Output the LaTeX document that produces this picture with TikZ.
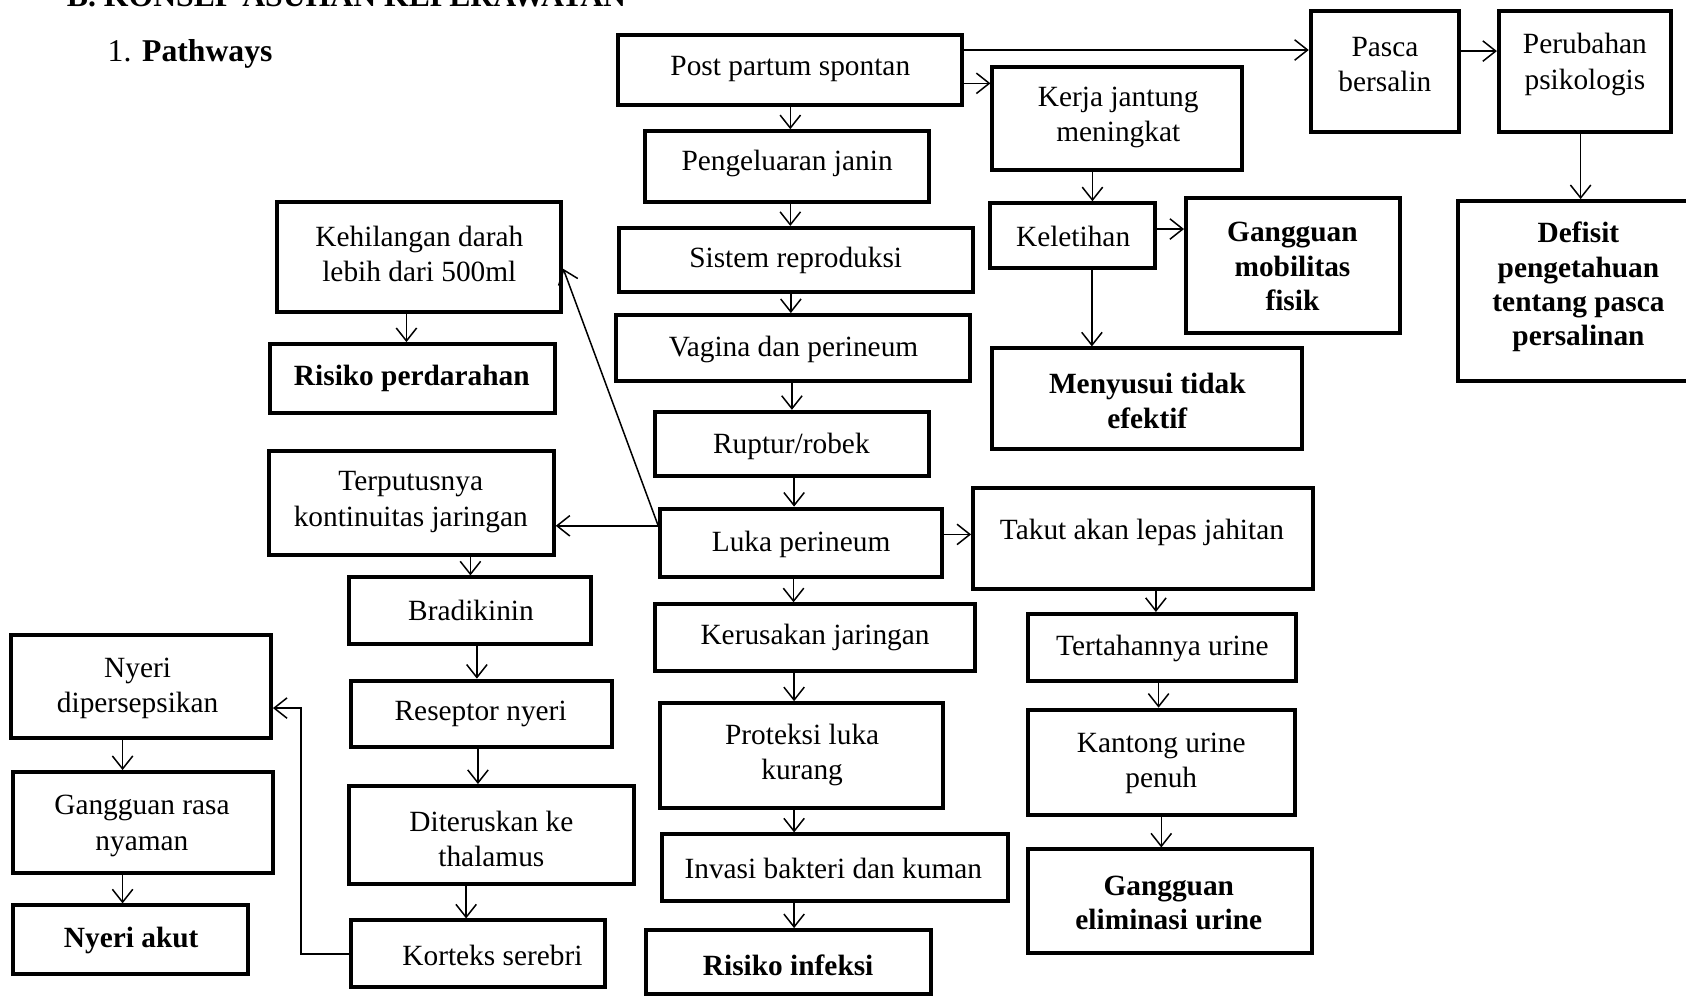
\documentclass[tikz,border=0pt]{standalone}
\usepackage{fontspec}
\setmainfont{Liberation Serif}
\usetikzlibrary{arrows.meta,calc}
\newcommand\mybox[5]{\node[box, minimum width={#4-#2}, minimum height={#5-#3}] (#1) at ({(#2+#4)/2},{(#3+#5)/2}) {};}
\begin{document}
\begin{tikzpicture}[x=1pt,y=-1pt,
  box/.style={draw, line width=3.7pt, inner sep=0pt},
  txt/.style={align=center, font=\fontsize{27.3}{33}\selectfont, inner sep=0pt, yshift=-3pt},
  btxt/.style={align=center, font=\fontsize{27.3}{32}\selectfont\bfseries, inner sep=0pt, yshift=-3pt},
  arr/.style={line width=1.4pt, -{Straight Barb[length=12pt,width=19pt,line width=1.4pt]}},
  ln/.style={line width=1.4pt}]
\useasboundingbox (0,0) rectangle (1568,927);

% heading
\node[anchor=base west, inner sep=0pt, font=\fontsize{29.5}{34}\selectfont\bfseries] (head) at (62,6) {B. KONSEP ASUHAN KEPERAWATAN};
\node[anchor=base west, inner sep=0pt, font=\fontsize{29.5}{34}\selectfont] (num) at (100,57) {1.};
\node[anchor=base west, inner sep=0pt, font=\fontsize{29.5}{34}\selectfont\bfseries] (path) at (132,57) {Pathways};

% boxes
\mybox{pps}{575}{33}{895}{98}
\mybox{peng}{600}{122}{864}{188}
\mybox{sis}{576}{212}{905}{272}
\mybox{vag}{573}{293}{902}{354}
\mybox{rup}{609}{383}{864}{443}
\mybox{luka}{614}{473}{876}{537}
\mybox{kerus}{609}{562}{907}{624}
\mybox{prot}{614}{654}{877}{751}
\mybox{inv}{616}{776}{937}{838}
\mybox{rinf}{601}{865}{866}{924}
\mybox{kerja}{923}{62}{1155}{158}
\mybox{kelet}{921}{189}{1074}{249}
\mybox{gmf}{1103}{184}{1302}{310}
\mybox{meny}{923}{324}{1211}{418}
\mybox{pasca}{1219}{10}{1357}{123}
\mybox{perub}{1394}{10}{1554}{123}
\mybox{defi}{1356}{187}{1576}{354}
\mybox{takut}{905}{454}{1221}{548}
\mybox{tert}{956}{571}{1205}{633}
\mybox{kant}{956}{660}{1204}{758}
\mybox{gel}{956}{790}{1220}{886}
\mybox{keh}{258}{188}{522}{290}
\mybox{risp}{251}{320}{516}{384}
\mybox{terp}{250}{419}{515}{516}
\mybox{brad}{325}{537}{550}{599}
\mybox{resep}{326}{633}{569}{695}
\mybox{dit}{325}{731}{590}{822}
\mybox{kort}{326}{856}{563}{918}
\mybox{nyeri}{10}{591}{252}{686}
\mybox{gang}{12}{718}{254}{812}
\mybox{nakut}{12}{842}{231}{906}

% texts
\node[txt] at (735,61) {Post partum spontan};
\node[txt] at (732,149) {Pengeluaran janin};
\node[txt] at (740,239) {Sistem reproduksi};
\node[txt] at (738,322) {Vagina dan perineum};
\node[txt] at (736,412) {Ruptur/robek};
\node[txt] at (745,503) {Luka perineum};
\node[txt] at (758,590) {Kerusakan jaringan};
\node[txt] at (746,699) {Proteksi luka\\kurang};
\node[txt] at (775,805) {Invasi bakteri dan kuman};
\node[btxt] at (733,895) {Risiko infeksi};
\node[txt] at (1040,106) {Kerja jantung\\meningkat};
\node[txt] at (998,217) {Keletihan};
\node[btxt] at (1202,245) {Gangguan\\mobilitas\\fisik};
\node[btxt] at (1067,370) {Menyusui tidak\\efektif};
\node[txt] at (1288,57) {Pasca\\bersalin};
\node[txt] at (1474,57) {Perubahan\\psikologis};
\node[btxt] at (1468,264) {Defisit\\pengetahuan\\tentang pasca\\persalinan};
\node[txt] at (1062,492) {Takut akan lepas jahitan};
\node[txt] at (1081,600) {Tertahannya urine};
\node[txt] at (1080,707) {Kantong urine\\penuh};
\node[btxt] at (1087,837) {Gangguan\\eliminasi urine};
\node[txt] at (390,233) {Kehilangan darah\\lebih dari 500ml};
\node[btxt] at (383,349) {Risiko perdarahan};
\node[txt] at (382,464) {Terputusnya\\kontinuitas jaringan};
\node[txt] at (438,565) {Bradikinin};
\node[txt] at (447,661) {Reseptor nyeri};
\node[txt] at (457,777) {Diteruskan ke\\thalamus};
\node[txt] at (458,886) {Korteks serebri};
\node[txt] at (128,637) {Nyeri\\dipersepsikan};
\node[txt] at (132,765) {Gangguan rasa\\nyaman};
\node[btxt] at (122,872) {Nyeri akut};

% central column
\draw[arr] (pps.south) -- (pps.south |- peng.north);
\draw[arr] ([xshift=3]peng.south) -- ([xshift=3]peng.south |- sis.north);
\draw[arr] ([xshift=-2]vag.north |- sis.south) -- ([xshift=-2]vag.north);
\draw[arr] ([xshift=-1]vag.south) -- ([xshift=-1]vag.south |- rup.north);
\draw[arr] ([xshift=2]rup.south) -- ([xshift=2]rup.south |- luka.north);
\draw[arr] ([xshift=-7]luka.south) -- ([xshift=-7]luka.south |- kerus.north);
\draw[arr] ([xshift=-7]prot.north |- kerus.south) -- ([xshift=-7]prot.north);
\draw[arr] ([xshift=-7]prot.south) -- ([xshift=-7]prot.south |- inv.north);
\draw[arr] ([xshift=5]rinf.north |- inv.south) -- ([xshift=5]rinf.north);

% top right
\draw[arr] ([yshift=19]pps.east) -- ([yshift=19]pps.east -| pasca.west);
\draw[arr] ([yshift=-12]pps.east) -- ([yshift=-12]pps.east -| kerja.west);
\draw[arr] ([yshift=19]pasca.east) -- ([yshift=19]pasca.east -| perub.west);
\draw[arr] ([xshift=-4]perub.south) -- ([xshift=-4]perub.south |- defi.north);
\draw[arr] ([xshift=-23]kerja.south) -- ([xshift=-23]kerja.south |- kelet.north);
\draw[arr] ([yshift=6]kelet.east) -- ([yshift=6]kelet.east -| gmf.west);
\draw[arr] ([xshift=18]kelet.south) -- ([xshift=18]kelet.south |- meny.north);

% right lower
\draw[arr] ([yshift=8]luka.east) -- ([yshift=8]luka.east -| takut.west);
\draw[arr] ([xshift=12]takut.south) -- ([xshift=12]takut.south |- tert.north);
\draw[arr] ([xshift=-3]tert.south) -- ([xshift=-3]tert.south |- kant.north);
\draw[arr] (kant.south) -- (kant.south |- gel.north);

% left
\draw[arr] ([yshift=16]luka.west) -- ([yshift=16]luka.west -| terp.east);
\draw[arr] ([yshift=16]luka.west) -- ([yshift=-11]keh.east);
\draw[arr] ([xshift=-12]keh.south) -- ([xshift=-12]keh.south |- risp.north);
\draw[arr] (brad.north |- terp.south) -- (brad.north);
\draw[arr] ([xshift=6]brad.south) -- ([xshift=6]brad.south |- resep.north);
\draw[arr] ([xshift=-3]resep.south) -- ([xshift=-3]resep.south |- dit.north);
\draw[arr] ([xshift=-11]kort.north |- dit.south) -- ([xshift=-11]kort.north);
\draw[arr] (kort.west) -- ++(-44,0) |- ([yshift=-20]nyeri.east);
\draw[arr] ([xshift=-17]nyeri.south) -- ([xshift=-17]nyeri.south |- gang.north);
\draw[arr] ([xshift=-19]gang.south) -- ([xshift=-19]gang.south |- nakut.north);
\end{tikzpicture}
\end{document}
